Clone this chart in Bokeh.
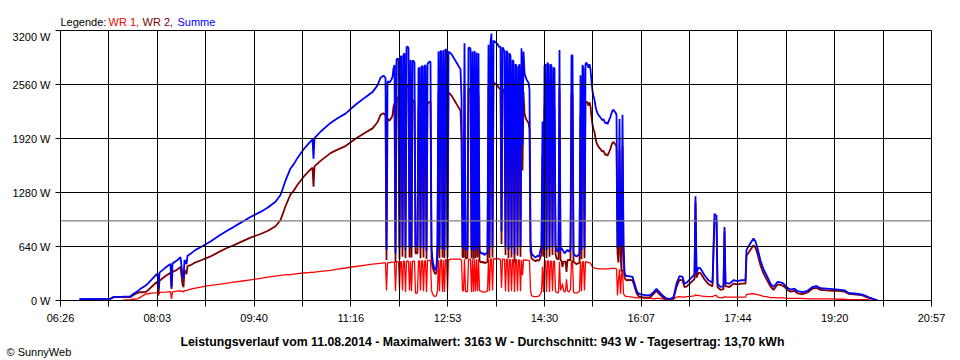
import numpy as np
from bokeh.plotting import figure
from bokeh.layouts import column
from bokeh.models import Range1d, FixedTicker, CustomJSTickFormatter, Span
from bokeh.core.properties import value
from bokeh.embed import file_html
from bokeh.resources import INLINE

# ---------------- data ----------------
x_tick_labels = ["06:26", "08:03", "09:40", "11:16", "12:53", "14:30", "16:07", "17:44", "19:20", "20:57"]
y_tick_values = [0, 640, 1280, 1920, 2560, 3200]
average_w = 943

legend_texts = ["Legende:", "WR 1,", "WR 2,", "Summe"]
summary_text = "Leistungsverlauf vom 11.08.2014 - Maximalwert: 3163 W - Durchschnitt: 943 W - Tagesertrag: 13,70 kWh"
credit_text = "\u00a9 SunnyWeb"

morning_times = ["06:45", "06:56", "07:06", "07:16", "07:19", "07:28", "07:36", "07:39", "07:43", "07:46",
                 "07:51", "07:53", "07:58", "08:02", "08:03", "08:04", "08:05", "08:11", "08:16", "08:17",
                 "08:18", "08:22", "08:26", "08:28", "08:29", "08:30", "08:32", "08:33", "08:36", "08:41",
                 "08:46", "08:56", "09:06", "09:13", "09:19", "09:26", "09:36", "09:46", "09:53", "10:01",
                 "10:06", "10:11", "10:16", "10:19", "10:23", "10:29", "10:34", "10:38", "10:39", "10:40",
                 "10:46", "10:56", "11:03", "11:11", "11:21", "11:31", "11:38", "11:43", "11:46", "11:49"]
morning_wr1 = [None, None, None, None, None, 5, 10, 15, 20, 40,
               75, 80, 88, 93, 95, 60, 96, 100, 105, 20,
               100, 110, 115, 110, 100, 118, 118, 122, 135, 147,
               158, 178, 195, 205, 217, 228, 245, 262, 276, 290,
               298, 303, 308, 312, 318, 326, 331, 335, 330, 336,
               345, 358, 372, 385, 403, 420, 430, 437, 440, 445]
morning_wr2 = [15, 15, 20, 20, 40, 40, 40, 65, 90, 98,
               100, 117, 172, 217, 221, 80, 234, 290, 329, 138,
               340, 360, 398, 190, 157, 362, 312, 408, 418, 453,
               474, 522, 585, 625, 653, 692, 745, 788, 824, 880,
               952, 1117, 1257, 1298, 1372, 1464, 1529, 1575, 1350, 1589,
               1655, 1747, 1788, 1830, 1917, 1990, 2040, 2113, 2200, 2220]

# one value per minute from 11:51 onwards
cloud_start = "11:51"
cloud_wr1 = [445, 120, 445, 450, 450, 450, 455, 455, 455, 455,
             110, 460, 460, 460, 130, 460, 460, 120, 465, 465,
             100, 465, 465, 465, 120, 465, 110, 465, 465, 465,
             90, 80, 100, 470, 470, 120, 470, 470, 110, 470,
             470, 100, 475, 475, 475, 475, 120, 80, 60, 50,
             50, 60, 120, 480, 110, 480, 480, 100, 480, 100,
             485, 485, 110, 485, 485, 490, 490, 490, 490, 490,
             490, 490, 490, 490, 490, 490, 480, 120, 110, 490,
             110, 100, 110, 490, 490, 490, 100, 490, 100, 490,
             110, 490, 110, 490, 120, 110, 110, 100, 100, 100,
             100, 110, 110, 490, 110, 490, 495, 120, 495, 495,
             495, 495, 495, 495, 490, 490, 150, 490, 490, 490,
             110, 490, 490, 100, 485, 485, 110, 485, 485, 100,
             485, 485, 110, 480, 480, 110, 480, 300, 480, 480,
             480, 480, 475, 475, 470, 120, 60, 50, 50, 45,
             45, 45, 50, 50, 60, 80, 100, 400, 100, 470,
             470, 100, 470, 470, 100, 465, 465, 110, 465, 465,
             110, 100, 90, 100, 460, 120, 150, 200, 120, 100,
             110, 250, 120, 100, 110, 130, 470, 470, 100, 90,
             90, 90, 90, 100, 110, 460, 110, 460, 460, 120,
             460, 460, 450, 450, 450, 440, 420, 400, 390, 385,
             380, 380, 378, 376, 375, 375, 375, 375, 375, 375,
             375, 375, 375, 375, 378, 380, 380, 380, 380, 380,
             380, 375, 60, 250, 370, 80, 300, 370, 80, 60,
             50, 50]
cloud_wr2 = [2195, 480, 2145, 2150, 2130, 2150, 2165, 2195, 2295, 2335,
             450, 2390, 2410, 2400, 490, 2420, 2440, 520, 2445, 2465,
             500, 2535, 2545, 2525, 510, 2385, 510, 2375, 2375, 2355,
             560, 560, 560, 2280, 2290, 500, 2310, 2300, 510, 2320,
             2310, 490, 2325, 2345, 2355, 2355, 510, 400, 360, 330,
             310, 340, 560, 2470, 500, 2480, 2470, 510, 2490, 500,
             2495, 2475, 510, 2465, 2455, 2440, 2430, 2410, 2390, 2370,
             2350, 2330, 2310, 2290, 2270, 2250, 1920, 520, 510, 2560,
             500, 500, 510, 2500, 2510, 2490, 500, 2460, 490, 2470,
             500, 2450, 510, 2440, 480, 450, 460, 450, 460, 440,
             450, 450, 460, 2540, 500, 2570, 2668, 510, 2585, 2575,
             2565, 2555, 2545, 2525, 2510, 2520, 670, 2510, 2490, 2460,
             540, 2470, 2450, 500, 2445, 2415, 510, 2365, 2345, 450,
             2315, 2295, 530, 2280, 2320, 520, 2510, 1540, 2470, 2220,
             2170, 2140, 2125, 2105, 2030, 580, 500, 490, 480, 475,
             465, 475, 480, 470, 480, 520, 540, 1720, 520, 2310,
             2330, 500, 2350, 2320, 520, 2335, 2315, 540, 2295, 2285,
             550, 500, 490, 490, 2510, 480, 470, 400, 460, 460,
             460, 340, 480, 480, 480, 480, 2440, 2430, 460, 450,
             440, 430, 440, 440, 450, 2210, 490, 2330, 2290, 500,
             2340, 2360, 2340, 2310, 2350, 2300, 2180, 2080, 2030, 1995,
             1920, 1870, 1842, 1824, 1805, 1795, 1775, 1765, 1775, 1745,
             1725, 1735, 1715, 1745, 1772, 1800, 1840, 1870, 1880, 1860,
             1850, 1825, 560, 450, 1780, 570, 340, 1830, 580, 270,
             250, 240]

evening_times = ["15:54", "15:58", "16:00", "16:02", "16:04", "16:08", "16:12", "16:16", "16:20", "16:22",
                 "16:24", "16:28", "16:32", "16:36", "16:39", "16:42", "16:45", "16:48", "16:50", "16:52",
                 "16:56", "17:00", "17:01", "17:02", "17:04", "17:06", "17:10", "17:14", "17:18", "17:20",
                 "17:21", "17:22", "17:23", "17:26", "17:29", "17:30", "17:31", "17:35", "17:39", "17:43",
                 "17:47", "17:51", "17:52", "17:54", "17:57", "17:59", "18:01", "18:03", "18:06", "18:09",
                 "18:12", "18:16", "18:19", "18:23", "18:26", "18:29", "18:33", "18:36", "18:40", "18:43",
                 "18:48", "18:53", "18:58", "19:02", "19:06", "19:12", "19:18", "19:24", "19:30", "19:34",
                 "19:42", "19:48", "19:52", "19:56", "20:00", "20:03"]
evening_wr1 = [45, 40, 35, 30, 30, 30, 25, 25, 20, 25,
               25, 20, 15, 15, 20, 40, 45, 40, 40, 45,
               50, 55, 70, 60, 60, 55, 50, 45, 45, 60,
               60, 60, 40, 35, 35, 50, 40, 40, 40, 40,
               40, 40, 70, 75, 80, 80, 75, 70, 60, 50,
               45, 35, 35, 30, 30, 30, 25, 25, 25, 25,
               25, 20, 20, 20, 20, 20, 20, 15, 15, 10,
               10, 10, 10, 5, 5, 0]
evening_wr2 = [245, 240, 165, 90, 50, 40, 35, 40, 90, 115,
               85, 40, 10, 5, 20, 160, 245, 240, 160, 165,
               210, 255, 1165, 270, 330, 325, 250, 195, 165, 970,
               940, 950, 160, 125, 135, 820, 170, 160, 200, 190,
               200, 200, 530, 565, 620, 655, 625, 550, 415, 320,
               255, 165, 125, 190, 185, 170, 125, 105, 115, 85,
               75, 95, 140, 150, 125, 120, 115, 115, 105, 80,
               70, 60, 40, 25, 10, 0]

# ---------------- assemble ----------------
def to_min(t):
    h, m = t.split(":")
    return int(h) * 60 + int(m)

t0 = to_min(x_tick_labels[0])
t1 = to_min(x_tick_labels[-1])
times = ([to_min(t) for t in morning_times]
         + [to_min(cloud_start) + i for i in range(len(cloud_wr1))]
         + [to_min(t) for t in evening_times])
wr1 = np.array(morning_wr1 + cloud_wr1 + evening_wr1, dtype=float)
wr2 = np.array(morning_wr2 + cloud_wr2 + evening_wr2, dtype=float)
summe = np.nan_to_num(wr1) + wr2

FONT = "Liberation Sans"
W = 960


def no_frame_align(fig):
    if "frame_align" in fig.properties():
        fig.frame_align = False


def text_strip(height):
    """A plain strip (no axes) whose frame equals its canvas: 1 data unit = 1 px."""
    s = figure(width=W, height=height, x_range=Range1d(0, W), y_range=Range1d(0, height),
               output_backend="svg", toolbar_location=None, x_axis_location=None, y_axis_location=None,
               min_border=0, min_border_left=0, min_border_right=0, min_border_top=0, min_border_bottom=0)
    s.outline_line_color = None
    s.grid.visible = False
    s.background_fill_color = "white"
    s.border_fill_color = "white"
    no_frame_align(s)
    return s


# ---------------- top strip: legend line ----------------
top = text_strip(30)
top.text(x=[60, 108, 142, 177], y=[9, 9, 9, 9], text=legend_texts,
         text_color=["black", "#ff0000", "#800000", "#0000ff"],
         text_font=value(FONT), text_font_size=value("11px"),
         text_baseline="alphabetic", text_align="left")

# ---------------- main chart ----------------
p = figure(width=W, height=300, x_range=Range1d(t0, t1), y_range=Range1d(0, 3200),
           output_backend="svg", toolbar_location=None,
           min_border_left=60, min_border_right=29, min_border_top=0, min_border_bottom=30)
p.background_fill_color = "white"
p.border_fill_color = "white"
p.outline_line_color = "black"
p.outline_line_width = 1
no_frame_align(p)

step = (t1 - t0) / 18.0
xticks = [t0 + i * step for i in range(19)]

p.xaxis.ticker = FixedTicker(ticks=xticks, minor_ticks=[])
p.xaxis.formatter = CustomJSTickFormatter(
    args=dict(labels=x_tick_labels, t0=t0, step=step),
    code="const i = Math.round((tick - t0) / step); return (i % 2 == 0) ? labels[i / 2] : '';")
p.yaxis.ticker = FixedTicker(ticks=y_tick_values, minor_ticks=[])
p.yaxis.formatter = CustomJSTickFormatter(code="return tick + ' W';")

for ax in (p.xaxis[0], p.yaxis[0]):
    ax.axis_line_color = "black"
    ax.major_tick_line_color = "black"
    ax.major_tick_in = 0
    ax.minor_tick_line_color = None
    ax.major_label_text_font = FONT
    ax.major_label_text_font_size = "11px"
    ax.major_label_text_color = "black"
p.xaxis.major_tick_out = 6
p.xaxis.major_label_standoff = 5
p.yaxis.major_tick_out = 5
p.yaxis.major_label_standoff = 5

p.xgrid.ticker = FixedTicker(ticks=xticks)
p.ygrid.ticker = FixedTicker(ticks=y_tick_values)
for g in (p.xgrid[0], p.ygrid[0]):
    g.grid_line_color = "black"
    g.grid_line_width = 1
    g.level = "overlay"

p.line(times, wr1, line_color="#ff0000", line_width=1.3)
p.line(times, wr2, line_color="#800000", line_width=1.8)
p.line(times, summe, line_color="#0000ff", line_width=1.8)

p.add_layout(Span(location=average_w, dimension="width", line_color="#808080", line_width=1.2, level="overlay"))

# ---------------- bottom strip: summary + credit ----------------
bottom = text_strip(30)
bottom.text(x=[180], y=[19], text=[summary_text], text_color="black",
            text_font=value(FONT), text_font_size=value("12.3px"), text_font_style="bold",
            text_baseline="alphabetic", text_align="left")
bottom.text(x=[6], y=[9], text=[credit_text], text_color="black",
            text_font=value(FONT), text_font_size=value("11px"),
            text_baseline="alphabetic", text_align="left")

layout = column(top, p, bottom, spacing=0)
open("out.html", "w").write(file_html(layout, INLINE))
